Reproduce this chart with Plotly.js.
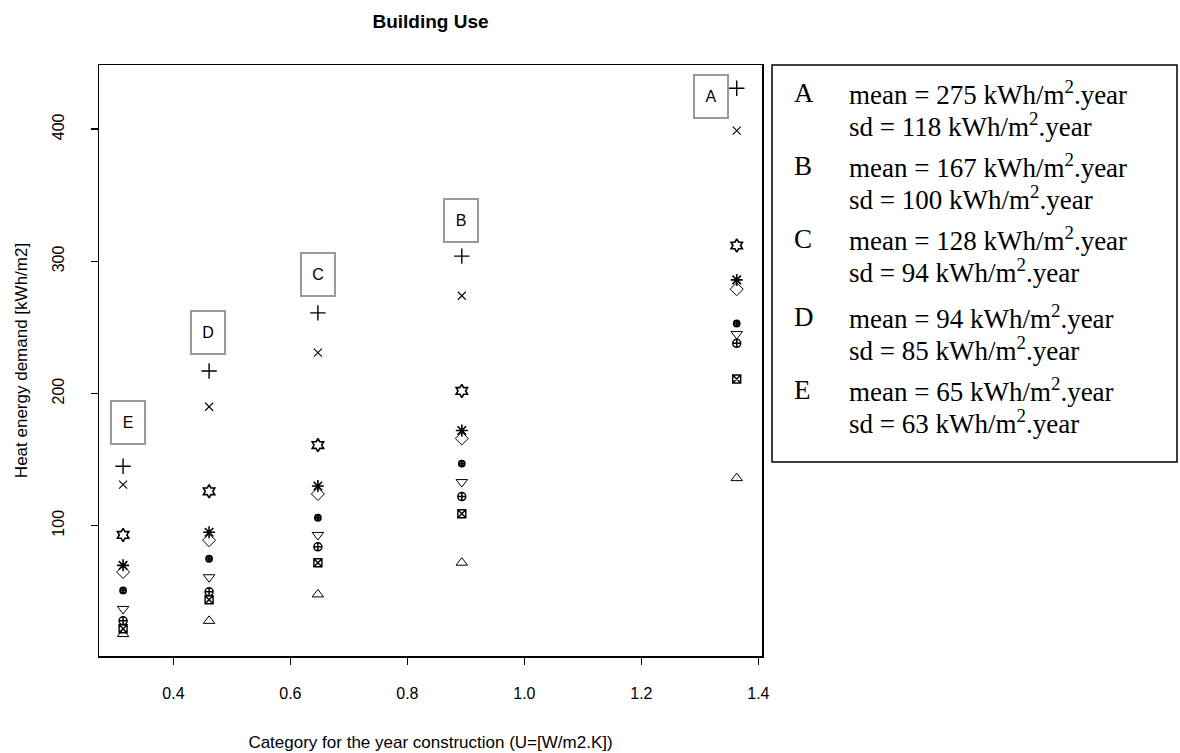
<!DOCTYPE html>
<html>
<head>
<meta charset="utf-8">
<script src="https://cdn.plot.ly/plotly-3.0.1.min.js"></script>
<style>html,body{margin:0;padding:0;background:#fff;}#chart{width:1180px;height:753px;}</style>
</head>
<body>
<div id="chart"></div>
<script>
// Categories (construction period) and their U value (x position)
const categories = ['E', 'D', 'C', 'B', 'A'];
const uValues = [0.314, 0.461, 0.647, 0.893, 1.363];

// Heat energy demand per building use (one array per symbol), ordered E..A
const usePlus      = [145, 217, 261, 304, 431];
const useCross     = [131, 190, 231, 274, 399];
const useHexagram  = [93, 126, 161, 202, 312];
const useAsterisk  = [70, 95, 130, 172, 286];
const useDiamond   = [65, 89, 124, 166, 279];
const useBlob      = [51, 75, 106, 147, 253];
const useTriDown   = [37, 61, 93, 133, 245];
const useCircleX   = [28, 50, 84, 122, 238];
const useSquareX   = [22, 44, 72, 109, 211];
const useTriUp     = [18, 28, 48, 72, 136];

// Label anchors for the boxed category letters (data units)
const labelX = [0.322, 0.459, 0.647, 0.892, 1.319];
const labelY = [178, 246, 290, 331, 425];

// Summary statistics text
const statLetters = ['A', 'B', 'C', 'D', 'E'];
const statMeans = [275, 167, 128, 94, 65];
const statSds = [118, 100, 94, 85, 63];

// ticks
const xTicks = [0.4, 0.6, 0.8, 1.0, 1.2, 1.4];
const xTickText = ['0.4', '0.6', '0.8', '1.0', '1.2', '1.4'];
const yTicks = [100, 200, 300, 400];

const seriesDefs = [
  [usePlus, 'cross-thin-open', 11, 1.4],
  [useCross, 'x-thin-open', 8, 1.1],
  [useHexagram, 'hexagram-open', 10, 1.6],
  [useAsterisk, 'asterisk-open', 10, 1.6],
  [useDiamond, 'diamond-open', 10, 1.0],
  [useBlob, 'circle-cross-open', 6, 1.8],
  [useTriDown, 'triangle-down-open', 10, 1.0],
  [useCircleX, 'circle-cross-open', 8, 1.5],
  [useSquareX, 'square-x-open', 8, 1.4],
  [useTriUp, 'triangle-up-open', 10, 1.0]
];

const traces = seriesDefs.map(function (d) {
  return {
    type: 'scatter', mode: 'markers',
    x: uValues, y: d[0],
    marker: {symbol: d[1], size: d[2], color: '#000', line: {color: '#000', width: d[3]}},
    showlegend: false, hoverinfo: 'x+y', cliponaxis: false
  };
});

const annotations = [];
categories.forEach(function (c, i) {
  annotations.push({
    x: labelX[i], y: labelY[i], xref: 'x', yref: 'y', text: c, showarrow: false,
    font: {family: 'Liberation Sans, Arial, sans-serif', size: 16, color: '#000'},
    bordercolor: '#9a9a9a', borderwidth: 2, borderpad: 1, width: 30, height: 39,
    xanchor: 'center', yanchor: 'middle'
  });
});

// legend text rows (paper coordinates)
const plotTop = 65, plotBottom = 656, plotLeft = 99, plotRight = 762;
function px2paperX(px) { return (px - plotLeft) / (plotRight - plotLeft); }
function px2paperY(py) { return (plotBottom - py) / (plotBottom - plotTop); }
const rowMeanY = [93, 166, 239, 317, 390];
const rowGap = 32;
const serif = {family: 'Liberation Serif, Times New Roman, serif', size: 27, color: '#000'};
statLetters.forEach(function (L, i) {
  annotations.push({xref: 'paper', yref: 'paper', x: px2paperX(792), y: px2paperY(rowMeanY[i]),
    xanchor: 'left', yanchor: 'middle', showarrow: false, text: L, font: serif});
  annotations.push({xref: 'paper', yref: 'paper', x: px2paperX(847), y: px2paperY(rowMeanY[i]),
    xanchor: 'left', yanchor: 'middle', showarrow: false,
    text: 'mean = ' + statMeans[i] + ' kWh/m<sup>2</sup>.year', font: serif});
  annotations.push({xref: 'paper', yref: 'paper', x: px2paperX(847), y: px2paperY(rowMeanY[i] + rowGap),
    xanchor: 'left', yanchor: 'middle', showarrow: false,
    text: 'sd = ' + statSds[i] + ' kWh/m<sup>2</sup>.year', font: serif});
});

const sans = 'Liberation Sans, Arial, sans-serif';
const layout = {
  width: 1180, height: 753,
  margin: {l: plotLeft, r: 1180 - plotRight, t: plotTop, b: 753 - plotBottom, pad: 0},
  paper_bgcolor: '#fff', plot_bgcolor: '#fff',
  title: {text: '<b>Building Use</b>', x: 0.5, xref: 'paper', y: 1 - 21 / 753, yanchor: 'middle',
    font: {family: sans, size: 19, color: '#000'}},
  xaxis: {
    range: [0.2728, 1.4062], tickvals: xTicks, ticktext: xTickText,
    showgrid: false, zeroline: false, showline: true, mirror: true, linecolor: '#000', linewidth: 1.5,
    ticks: 'outside', ticklen: 7, tickcolor: '#000', tickwidth: 1.5, ticklabelstandoff: 15,
    tickfont: {family: sans, size: 16, color: '#000'},
    title: {text: 'Category for the year construction (U=[W/m2.K])', standoff: 35,
      font: {family: sans, size: 17, color: '#000'}}
  },
  yaxis: {
    range: [1.4, 448.6], tickvals: yTicks, tickangle: -90,
    showgrid: false, zeroline: false, showline: true, mirror: true, linecolor: '#000', linewidth: 1.5,
    ticks: 'outside', ticklen: 7, tickcolor: '#000', tickwidth: 1.5, ticklabelstandoff: 20,
    tickfont: {family: sans, size: 16, color: '#000'},
    title: {text: 'Heat energy demand [kWh/m2]', standoff: 18,
      font: {family: sans, size: 17, color: '#000'}}
  },
  shapes: [{
    type: 'rect', xref: 'paper', yref: 'paper',
    x0: px2paperX(772), x1: px2paperX(1177), y0: px2paperY(462), y1: px2paperY(65),
    line: {color: '#000', width: 1.5}, fillcolor: 'rgba(0,0,0,0)'
  }],
  annotations: annotations,
  showlegend: false
};

Plotly.newPlot('chart', traces, layout, {displayModeBar: false, staticPlot: true});
</script>
</body>
</html>
